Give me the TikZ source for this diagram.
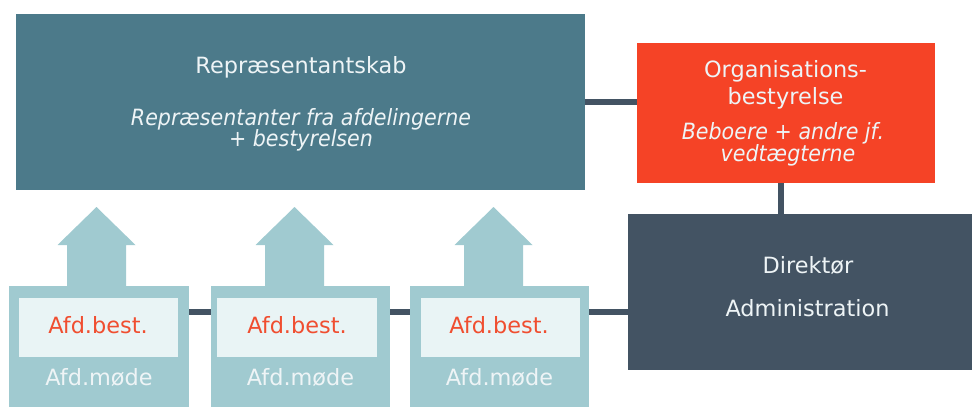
\documentclass[tikz,border=0pt]{standalone}
\usepackage{fontspec}
\setmainfont{DejaVu Sans}
\newfontfamily\oblfont{DejaVu Sans}[FakeStretch=0.92]
\definecolor{repc}{RGB}{76,122,138}
\definecolor{orgc}{RGB}{245,67,38}
\definecolor{dirc}{RGB}{67,83,99}
\definecolor{afdc}{RGB}{160,202,208}
\definecolor{innc}{RGB}{233,244,245}
\definecolor{redt}{RGB}{240,78,48}
\definecolor{whitet}{RGB}{238,244,246}
\tikzset{
  box/.style={rectangle, inner sep=0pt, outer sep=0pt},
  conn/.style={draw=dirc, line width=6pt},
  txt/.style={anchor=base, inner sep=0pt, text=whitet, font=\fontsize{22.4}{24}\selectfont},
  itxt/.style={txt, font=\oblfont\itshape\fontsize{22.4}{24}\selectfont},
  redtxt/.style={txt, text=redt},
  blockarrow/.style={fill=afdc}
}
\begin{document}
\begin{tikzpicture}[x=1pt,y=-1pt]
\useasboundingbox (0,0) rectangle (972,407);
% main boxes
\node[box, fill=repc, minimum width=569pt, minimum height=176pt] (rep) at (300.5,102) {};
\node[box, fill=orgc, minimum width=298pt, minimum height=140pt] (org) at (786,113) {};
\node[box, fill=dirc, minimum width=362pt, minimum height=156pt] (dir) at (809,292) {};
% afd boxes
\node[box, fill=afdc, minimum width=180pt, minimum height=130pt] (a1) at (99,351) {};
\node[box, fill=afdc, minimum width=179pt, minimum height=130pt] (a2) at (300.5,351) {};
\node[box, fill=afdc, minimum width=179pt, minimum height=130pt] (a3) at (499.5,351) {};
\node[box, fill=innc, minimum width=159pt, minimum height=59pt] (b1) at (98.5,327.5) {};
\node[box, fill=innc, minimum width=160pt, minimum height=59pt] (b2) at (297,327.5) {};
\node[box, fill=innc, minimum width=159pt, minimum height=59pt] (b3) at (500,327.5) {};
% block arrows
\foreach \cx in {96.5,294.5,493.5}{
  \fill[blockarrow] (\cx-29.5,286.5) -- (\cx-29.5,245) -- (\cx-39,245) -- (\cx,207) -- (\cx+39,245) -- (\cx+29.5,245) -- (\cx+29.5,286.5) -- cycle;
}
% connectors
\draw[conn] (rep.east |- 0,101.5) -- (org.west |- 0,101.5);
\draw[conn] (org.south -| 781,0) -- (dir.north -| 781,0);
\draw[conn] (a1.east |- 0,311.5) -- (a2.west |- 0,311.5);
\draw[conn] (a2.east |- 0,311.5) -- (a3.west |- 0,311.5);
\draw[conn] (a3.east |- 0,311.5) -- (dir.west |- 0,311.5);
% texts
\node[txt] (t1) at (301,73.5) {Repræsentantskab};
\node[itxt] (t2) at (301,125) {Repræsentanter fra afdelingerne};
\node[itxt] (t3) at (301,146) {+ bestyrelsen};
\node[txt] (o1) at (785.5,77.5) {Organisations-};
\node[txt] (o2) at (785.5,104) {bestyrelse};
\node[itxt] (o3) at (783,139) {Beboere + andre jf.};
\node[itxt] (o4) at (788,161) {vedtægterne};
\node[txt] (d1) at (808,273) {Direktør};
\node[txt] (d2) at (807.5,316) {Administration};
\node[redtxt] (r1) at (98,333) {Afd.best.};
\node[redtxt] (r2) at (297,333) {Afd.best.};
\node[redtxt] (r3) at (499,333) {Afd.best.};
\node[txt] (m1) at (99,385) {Afd.møde};
\node[txt] (m2) at (300.5,385) {Afd.møde};
\node[txt] (m3) at (499.5,385) {Afd.møde};
\end{tikzpicture}
\end{document}
